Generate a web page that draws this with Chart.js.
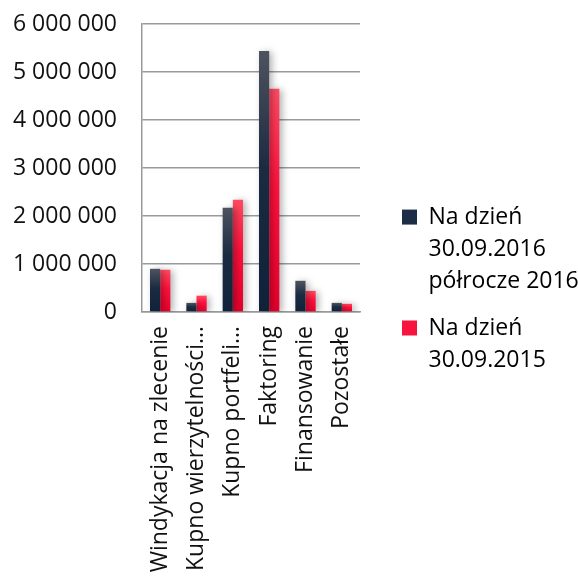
<!DOCTYPE html>
<html>
<head>
<meta charset="utf-8">
<script src="https://cdn.jsdelivr.net/npm/chart.js@4"></script>
<style>
  html, body { margin: 0; padding: 0; background: #fff; }
  #wrap { width: 578px; height: 578px; overflow: hidden; }
</style>
</head>
<body>
<div id="wrap"><canvas id="myChart"></canvas></div>
<script>
// chart data
const categories = ['Windykacja na zlecenie', 'Kupno wierzytelności…', 'Kupno portfeli…', 'Faktoring', 'Finansowanie', 'Pozostałe'];
const series2016 = [900000, 190000, 2170000, 5440000, 650000, 190000];
const series2015 = [880000, 340000, 2340000, 4650000, 440000, 170000];
const seriesNames = [
    ['Na dzień', '30.09.2016', 'półrocze 2016'],
    ['Na dzień', '30.09.2015']
];
const yTicks = [0, 1000000, 2000000, 3000000, 4000000, 5000000, 6000000];

Chart.defaults.font.family = "'Open Sans', sans-serif";
Chart.defaults.font.size = 23;
Chart.defaults.color = '#111';

// vertical gradient running from top of each bar down to the base
function barGradient(stops, solid) {
    return (c) => {
        const chart = c.chart;
        if (!chart.chartArea || !c.parsed) return solid;
        const yScale = chart.scales.y;
        const top = yScale.getPixelForValue(c.parsed.y);
        const base = yScale.getPixelForValue(0);
        if (!(base > top)) return solid;
        const g = chart.ctx.createLinearGradient(0, top, 0, base);
        stops.forEach(s => g.addColorStop(s[0], s[1]));
        return g;
    };
}

const darkStops = [[0, '#4e535f'], [0.45, '#1b2b41'], [1, '#0f2239']];
const redStops = [[0, '#ff4a62'], [0.45, '#ff103c'], [1, '#e6002b']];

const barShadow = {
    id: 'barShadow',
    beforeDatasetsDraw(chart) {
        const ctx = chart.ctx;
        ctx.save();
        ctx.shadowColor = 'rgba(0, 0, 0, 0.3)';
        ctx.shadowBlur = 7;
        ctx.shadowOffsetX = 3;
        ctx.shadowOffsetY = 1;
    },
    afterDatasetsDraw(chart) {
        chart.ctx.restore();
    }
};

// the legend measures multi-line labels too narrow, so widen its box
const legendWidth = 191;
const legendFix = {
    id: 'legendFix',
    beforeLayout(chart) {
        const lg = chart.legend;
        if (lg && !lg._patched) {
            const origFit = lg.fit.bind(lg);
            lg.fit = function () {
                origFit();
                this.width = legendWidth;
            };
            lg._patched = true;
        }
    }
};

function noOverflow(scale) {
    scale.paddingTop = 0;
    scale.paddingBottom = 0;
    scale.paddingLeft = 0;
    scale.paddingRight = 0;
}

const ctx = document.getElementById('myChart').getContext('2d');
new Chart(ctx, {
    type: 'bar',
    data: {
        labels: categories,
        datasets: [{
            label: seriesNames[0].join(' '),
            data: series2016,
            backgroundColor: barGradient(darkStops, '#1b2b41'),
            borderWidth: 0
        }, {
            label: seriesNames[1].join(' '),
            data: series2015,
            backgroundColor: barGradient(redStops, '#ff103c'),
            borderWidth: 0
        }]
    },
    options: {
        responsive: true,
        maintainAspectRatio: false,
        animation: false,
        layout: { padding: { top: 24, left: 0, right: 0, bottom: 16 } },
        datasets: {
            bar: { categoryPercentage: 0.56, barPercentage: 1 }
        },
        plugins: {
            tooltip: { enabled: false },
            legend: {
                position: 'right',
                align: 'center',
                labels: {
                    boxWidth: 15,
                    boxHeight: 15,
                    padding: 15,
                    font: { size: 23, lineHeight: 1.39 },
                    color: '#111',
                    generateLabels: () => seriesNames.map((name, i) => ({
                        text: name,
                        fillStyle: i === 0 ? '#1d2d45' : '#f8143e',
                        strokeStyle: i === 0 ? '#1d2d45' : '#f8143e',
                        lineWidth: 0,
                        datasetIndex: i
                    }))
                }
            }
        },
        scales: {
            x: {
                grid: { display: false, drawTicks: false },
                border: { display: true, color: '#9a9a9a', width: 1.5 },
                ticks: {
                    autoSkip: false,
                    minRotation: 90,
                    maxRotation: 90,
                    padding: 14,
                    color: '#111'
                },
                afterFit: (scale) => {
                    scale.height = 250;
                    noOverflow(scale);
                    // let the long rotated labels run to the canvas edge
                    scale._computeLabelArea = () => undefined;
                }
            },
            y: {
                min: 0,
                max: 6000000,
                grid: { color: '#9a9a9a', lineWidth: 1.5, drawTicks: false },
                border: { display: true, color: '#9a9a9a', width: 1.5 },
                afterBuildTicks: (scale) => { scale.ticks = yTicks.map(v => ({ value: v })); },
                ticks: {
                    padding: 25,
                    color: '#111',
                    callback: (v) => String(v).replace(/\B(?=(\d{3})+(?!\d))/g, ' ')
                },
                afterFit: (scale) => { scale.width = 142; noOverflow(scale); }
            },
            gap: {
                position: 'right',
                display: true,
                grid: { display: false, drawTicks: false },
                border: { display: false },
                ticks: { display: false },
                afterFit: (scale) => { scale.width = 27; noOverflow(scale); }
            }
        }
    },
    plugins: [barShadow, legendFix]
});
</script>
</body>
</html>
